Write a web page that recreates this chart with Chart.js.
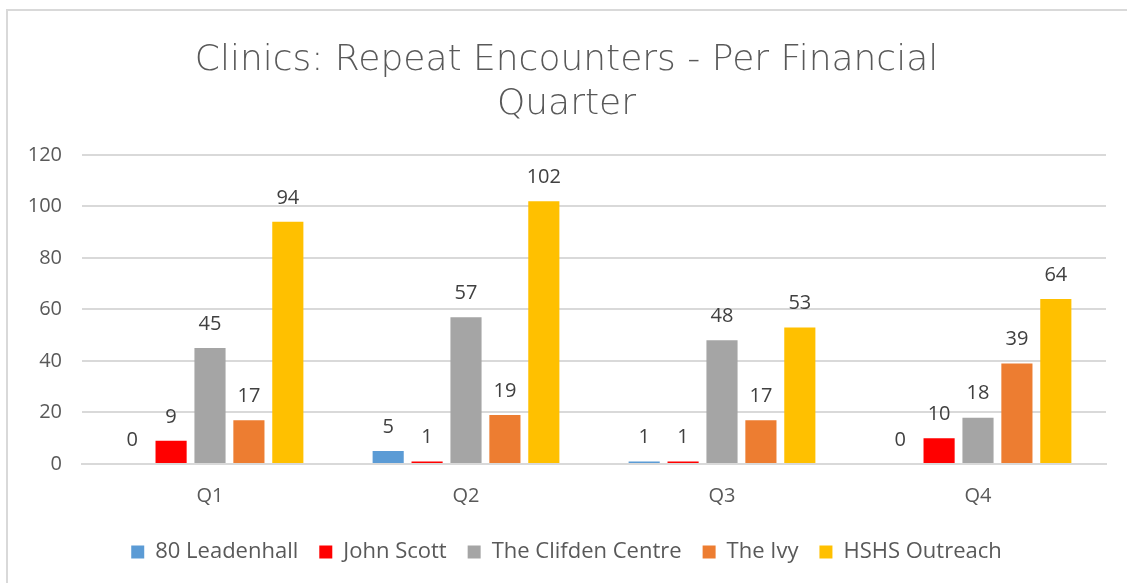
<!DOCTYPE html>
<html>
<head>
<meta charset="utf-8">
<script src="https://cdn.jsdelivr.net/npm/chart.js@4/dist/chart.umd.min.js"></script>
<style>
  html, body { margin: 0; padding: 0; background: #fff; overflow: hidden; }
  #frame {
    position: absolute; left: 6px; top: 9px; width: 1200px; height: 700px;
    border-top: 2px solid #d9d9d9; border-left: 2px solid #d9d9d9;
  }
  #wrap { position: absolute; left: 7px; top: 0; width: 1128px; height: 583px; }
</style>
</head>
<body>
<div id="frame"></div>
<div id="wrap"><canvas id="chart"></canvas></div>
<script>
const quarters = ['Q1', 'Q2', 'Q3', 'Q4'];
const leadenhall = [0, 5, 1, 0];
const johnScott = [9, 1, 1, 10];
const clifden = [45, 57, 48, 18];
const theIvy = [17, 19, 17, 39];
const hshsOutreach = [94, 102, 53, 64];
const yTicks = [0, 20, 40, 60, 80, 100, 120];

// draws the value above each bar, Excel style
const valueLabels = {
   id: 'valueLabels',
   afterDatasetsDraw(chart) {
      const ctx = chart.ctx;
      ctx.save();
      ctx.font = '20px "Open Sans", sans-serif';
      ctx.fillStyle = '#404040';
      ctx.textAlign = 'center';
      ctx.textBaseline = 'bottom';
      chart.data.datasets.forEach((ds, i) => {
         chart.getDatasetMeta(i).data.forEach((bar, j) => {
            ctx.fillText(ds.data[j], bar.x, bar.y - 14);
         });
      });
      ctx.restore();
   }
};

const tickFont = { family: '"Open Sans", sans-serif', size: 20 };

new Chart(document.getElementById('chart').getContext('2d'), {
   type: 'bar',
   data: {
      labels: quarters,
      datasets: [
         { label: '80 Leadenhall', data: leadenhall, backgroundColor: '#5B9BD5' },
         { label: 'John Scott', data: johnScott, backgroundColor: '#FF0000' },
         { label: 'The Clifden Centre', data: clifden, backgroundColor: '#A5A5A5' },
         { label: 'The Ivy', data: theIvy, backgroundColor: '#ED7D31' },
         { label: 'HSHS Outreach', data: hshsOutreach, backgroundColor: '#FFC000' },
      ],
   },
   options: {
      responsive: true,
      maintainAspectRatio: false,
      animation: false,
      datasets: { bar: { categoryPercentage: 0.76, barPercentage: 0.8 } },
      layout: { padding: { left: 20, right: 29, top: 0, bottom: 10 } },
      plugins: {
         title: {
            display: true,
            text: ['Clinics: Repeat Encounters - Per Financial', 'Quarter'],
            color: '#595959',
            font: { family: '"DejaVu Sans"', size: 36, weight: '300', lineHeight: 1.22 },
            padding: { top: 39, bottom: 28 },
         },
         legend: {
            position: 'bottom',
            labels: {
               color: '#595959',
               font: { family: '"Open Sans", sans-serif', size: 22 },
               boxWidth: 13,
               boxHeight: 13,
               padding: 21,
            },
         },
         tooltip: { enabled: false },
      },
      scales: {
         x: {
            grid: { display: false },
            border: { color: '#d9d9d9', width: 2 },
            ticks: { color: '#595959', font: tickFont, padding: 12 },
         },
         y: {
            min: 0,
            max: 120,
            afterBuildTicks: (axis) => { axis.ticks = yTicks.map(v => ({ value: v })); },
            // fixed width so the plot starts where Excel put it
            afterFit: (axis) => { axis.width = 55; },
            grid: { color: '#d9d9d9', lineWidth: 2, drawTicks: false },
            border: { display: false },
            ticks: { color: '#595959', font: tickFont, padding: 20 },
         },
      },
   },
   plugins: [valueLabels],
});
</script>
</body>
</html>
